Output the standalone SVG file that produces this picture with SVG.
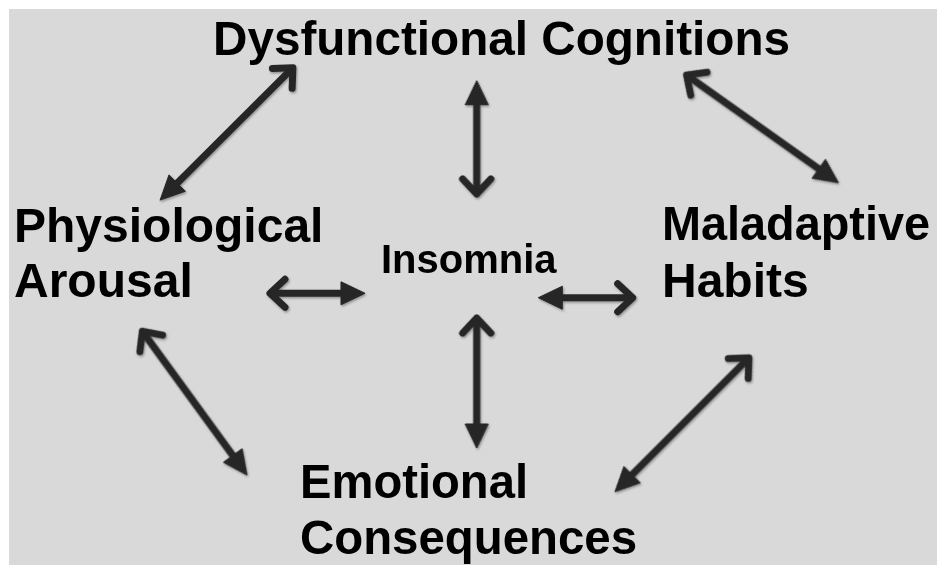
<svg xmlns="http://www.w3.org/2000/svg" width="937" height="565" viewBox="0 0 937 565">
<style>
.lbl{font-family:"Liberation Sans",Arial,sans-serif;font-weight:bold;fill:#000;}
.big{font-size:48px;}
.mid{font-size:40px;}
.shaft{stroke:#262626;stroke-width:7;fill:none;}
.chev{stroke:#262626;stroke-width:7;fill:none;stroke-linecap:round;stroke-linejoin:round;}
.tri{fill:#262626;stroke:#262626;stroke-width:1;stroke-linejoin:round;}
</style>
<defs>
<filter id="sh" x="-20%" y="-20%" width="140%" height="140%">
<feDropShadow dx="1" dy="1.5" stdDeviation="1" flood-color="#000" flood-opacity="0.35"/>
</filter>
</defs>
<rect x="0" y="0" width="937" height="565" fill="#ffffff"/>
<rect x="9" y="9" width="928" height="556" fill="#d9d9d9"/>
<g id="connectors" filter="url(#sh)">
<g id="a1" transform="translate(295.7,65) rotate(135.1)">
<line class="shaft" x1="5" y1="0" x2="171.4" y2="0"/><polyline class="chev" points="19,-14 4,0 19,14"/><polygon class="tri" points="191.4,0 167.4,-11.5 167.4,11.5"/>
</g>
<g id="a2" transform="translate(476.7,198) rotate(-90)">
<line class="shaft" x1="5" y1="0" x2="97.3" y2="0"/><polyline class="chev" points="19,-14 4,0 19,14"/><polygon class="tri" points="117.3,0 93.3,-11.5 93.3,11.5"/>
</g>
<g id="a3" transform="translate(683.3,72.7) rotate(35.36)">
<line class="shaft" x1="5" y1="0" x2="170.1" y2="0"/><polyline class="chev" points="19,-14 4,0 19,14"/><polygon class="tri" points="190.1,0 166.1,-11.5 166.1,11.5"/>
</g>
<g id="a4" transform="translate(266,293.3)">
<line class="shaft" x1="5" y1="0" x2="79" y2="0"/><polyline class="chev" points="19,-14 4,0 19,14"/><polygon class="tri" points="99,0 75,-11.5 75,11.5"/>
</g>
<g id="a5" transform="translate(636.7,297.7) rotate(180)">
<line class="shaft" x1="5" y1="0" x2="78.4" y2="0"/><polyline class="chev" points="19,-14 4,0 19,14"/><polygon class="tri" points="98.4,0 74.4,-11.5 74.4,11.5"/>
</g>
<g id="a6" transform="translate(476.7,314) rotate(90)">
<line class="shaft" x1="5" y1="0" x2="114" y2="0"/><polyline class="chev" points="19,-14 4,0 19,14"/><polygon class="tri" points="134,0 110,-11.5 110,11.5"/>
</g>
<g id="a7" transform="translate(140,328) rotate(53.95)">
<line class="shaft" x1="5" y1="0" x2="161.8" y2="0"/><polyline class="chev" points="19,-14 4,0 19,14"/><polygon class="tri" points="181.8,0 157.8,-11.5 157.8,11.5"/>
</g>
<g id="a8" transform="translate(751.7,355) rotate(135)">
<line class="shaft" x1="5" y1="0" x2="173.3" y2="0"/><polyline class="chev" points="19,-14 4,0 19,14"/><polygon class="tri" points="193.3,0 169.3,-11.5 169.3,11.5"/>
</g>
</g>
<g id="dysfunctional"><text class="lbl big" x="213" y="55" textLength="577" lengthAdjust="spacingAndGlyphs">Dysfunctional Cognitions</text></g>
<g id="physiological"><text class="lbl big" x="14" y="242">Physiological</text><text class="lbl big" x="14" y="297">Arousal</text></g>
<g id="insomnia"><text class="lbl mid" x="381" y="273">Insomnia</text></g>
<g id="maladaptive"><text class="lbl big" x="662" y="240" textLength="268" lengthAdjust="spacingAndGlyphs">Maladaptive</text><text class="lbl big" x="662" y="297">Habits</text></g>
<g id="emotional"><text class="lbl big" x="300" y="498" textLength="228" lengthAdjust="spacingAndGlyphs">Emotional</text><text class="lbl big" x="300" y="554" textLength="337" lengthAdjust="spacingAndGlyphs">Consequences</text></g>
</svg>
